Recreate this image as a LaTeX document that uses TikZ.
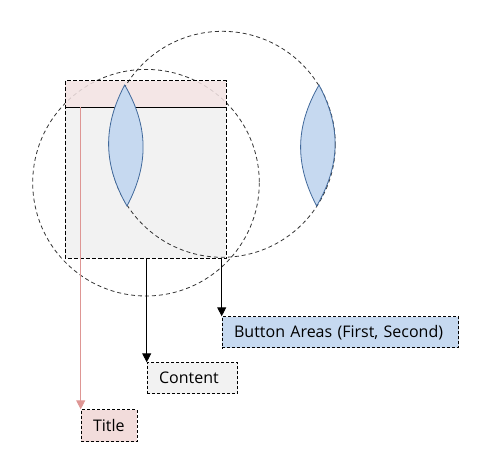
\documentclass[tikz,border=0pt]{standalone}
\usepackage{fontspec}
\setmainfont{Open Sans}
\usepackage{xcolor}
\usepackage{tikz}
\usetikzlibrary{arrows.meta}
\definecolor{bandpink}{RGB}{245,229,229}
\definecolor{titlepink}{RGB}{242,220,219}
\definecolor{areagray}{RGB}{242,242,242}
\definecolor{lensblue}{RGB}{198,217,240}
\definecolor{lensedge}{RGB}{65,105,155}
\definecolor{titleline}{RGB}{222,150,148}
\tikzset{LBring/.style={draw=black!80,dashed,dash pattern=on 4pt off 3pt,line width=0.8pt},
	LBlens/.style={fill=lensblue,draw=lensedge,line width=0.8pt},
	LBbox/.style={draw,dash pattern=on 3pt off 2pt,line width=0.8pt,anchor=north west,
		minimum height=31pt,inner xsep=12pt,inner ysep=0pt,align=left,
		font=\fontsize{16}{19}\selectfont}}

\begin{document}
\begin{tikzpicture}[x=1pt,y=-1pt]
	\useasboundingbox (0,0) rectangle (481,473);
	% window and title band
	\fill[areagray] (65.3,80.7) rectangle (226.3,258.3);
	\draw[LBring] (146,182.7) circle (113.3);
	\fill[bandpink,opacity=.85] (65.3,80.7) rectangle (226.3,107.3);
	\draw[LBring] (222.3,144.3) circle (113);
	\draw[dash pattern=on 4pt off 2pt,line width=0.8pt] (65.3,80.7) rectangle (226.3,258.3);
	\draw[line width=0.8pt] (65.3,107.3) -- (226.3,107.3);
	%
	\coordinate (L1) at (124.7,85);
	\coordinate (L1') at (127,206);
	\coordinate (L2) at (319,85);
	\coordinate (L2') at (316.7,206);
	\draw[LBlens] (L1) to[bend left=29] (L1') to[bend left=29] (L1) -- cycle;
	\draw[LBlens] (L2) to[bend left=29] (L2') to[bend left=29] (L2) -- cycle;
	%
	\coordinate (t) at (80.7,107.3);
	\coordinate (c) at (146.7,258.3);
	\coordinate (b) at (221.7,258.3);
	\node[LBbox,fill=lensblue,text width=212.6pt] (B) at (221.7,316.3) {Button Areas (First, Second)};
	\node[LBbox,fill=areagray,text width=66.6pt] (C) at (146.7,362.3) {Content};
	\node[LBbox,fill=titlepink,text width=32pt,minimum height=32pt] (T) at (80.7,409.3) {Title};
	%
	\path[-{Triangle[width=9pt,length=9pt]},line width=0.9pt]
	(b) edge (B.north west)
	(c) edge (C.north west)
	(t) edge[draw=titleline,color=titleline] (T.north west);
\end{tikzpicture}
\end{document}
